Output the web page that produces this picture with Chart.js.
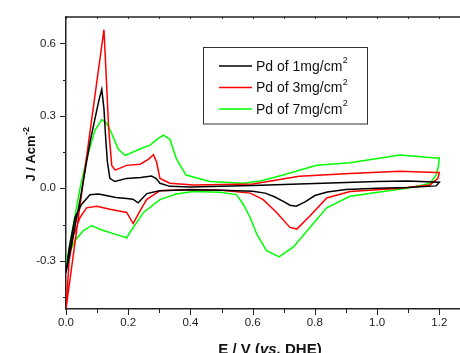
<!DOCTYPE html>
<html>
<head>
<meta charset="utf-8">
<script src="https://cdn.jsdelivr.net/npm/chart.js@4.4.0/dist/chart.umd.min.js"></script>
<style>
  html, body { margin: 0; padding: 0; background: #fff; overflow: hidden; }
  #wrap { width: 480px; height: 353px; }
</style>
</head>
<body>
<div id="wrap"><canvas id="cv" width="480" height="353"></canvas></div>
<script>
/* ---------- data ---------- */
const seriesNames = ['Pd of 1mg/cm', 'Pd of 3mg/cm', 'Pd of 7mg/cm'];
const seriesColors = ['#000000', '#ff0000', '#00ff00'];

// Pd 1 mg/cm2 : anodic scan 0 -> 1.2 V, then cathodic back to 0
const e1 = [0, 0.045, 0.077, 0.105, 0.115, 0.122, 0.128, 0.133, 0.141, 0.157, 0.195, 0.24, 0.275, 0.29, 0.302, 0.334, 0.4, 0.6, 0.8, 1.0, 1.1, 1.2,
            1.19, 1.1, 1.0, 0.9, 0.84, 0.8, 0.77, 0.74, 0.72, 0.7, 0.67, 0.64, 0.6, 0.5, 0.4, 0.3, 0.26, 0.232, 0.215, 0.195, 0.16, 0.141, 0.104, 0.077, 0.05, 0.029, 0.01, 0];
const j1 = [-0.35, -0.05, 0.19, 0.36, 0.41, 0.33, 0.2, 0.11, 0.041, 0.028, 0.041, 0.045, 0.051, 0.04, 0.021, 0.008, 0.005, 0.012, 0.02, 0.028, 0.03, 0.025,
            0.01, 0.003, 0.0, -0.005, -0.015, -0.03, -0.055, -0.074, -0.07, -0.055, -0.035, -0.02, -0.012, -0.008, -0.006, -0.01, -0.022, -0.06, -0.045, -0.042, -0.038, -0.033, -0.024, -0.027, -0.067, -0.12, -0.25, -0.35];

// Pd 3 mg/cm2
const e3 = [0, 0.063, 0.122, 0.128, 0.137, 0.147, 0.158, 0.195, 0.238, 0.265, 0.281, 0.291, 0.302, 0.334, 0.409, 0.6, 0.75, 0.913, 1.074, 1.19, 1.2,
            1.195, 1.17, 1.074, 0.913, 0.838, 0.784, 0.742, 0.72, 0.677, 0.634, 0.592, 0.5, 0.4, 0.302, 0.259, 0.238, 0.216, 0.195, 0.141, 0.099, 0.066, 0.045, 0.024, 0.01, 0];
const j3 = [-0.5, 0.1, 0.657, 0.5, 0.25, 0.095, 0.075, 0.095, 0.1, 0.12, 0.139, 0.11, 0.041, 0.021, 0.014, 0.018, 0.05, 0.061, 0.071, 0.065, 0.065,
            0.04, 0.014, 0.0, -0.013, -0.04, -0.115, -0.169, -0.162, -0.1, -0.047, -0.02, -0.008, -0.005, -0.01, -0.047, -0.094, -0.146, -0.1, -0.087, -0.074, -0.081, -0.121, -0.196, -0.3, -0.5];

// Pd 7 mg/cm2
const e7 = [0, 0.045, 0.066, 0.093, 0.115, 0.13, 0.141, 0.168, 0.19, 0.238, 0.27, 0.295, 0.313, 0.334, 0.355, 0.386, 0.463, 0.57, 0.624, 0.698, 0.806, 0.913, 1.074, 1.19, 1.2,
            1.197, 1.19, 1.17, 1.095, 1.02, 0.913, 0.838, 0.784, 0.731, 0.685, 0.644, 0.613, 0.592, 0.57, 0.548, 0.495, 0.409, 0.355, 0.302, 0.249, 0.206, 0.195, 0.163, 0.12, 0.082, 0.056, 0.029, 0.01, 0];
const j7 = [-0.32, 0.0, 0.12, 0.24, 0.285, 0.27, 0.244, 0.163, 0.136, 0.163, 0.179, 0.205, 0.22, 0.203, 0.122, 0.055, 0.028, 0.021, 0.03, 0.055, 0.095, 0.106, 0.138, 0.125, 0.125,
            0.09, 0.055, 0.02, 0.0, -0.013, -0.033, -0.081, -0.162, -0.243, -0.284, -0.257, -0.189, -0.121, -0.067, -0.026, -0.016, -0.013, -0.024, -0.047, -0.1, -0.182, -0.205, -0.192, -0.175, -0.155, -0.175, -0.216, -0.27, -0.32];

const xTicks = [0, 0.2, 0.4, 0.6, 0.8, 1.0, 1.2];
const yTicks = [-0.3, 0.0, 0.3, 0.6];

const FONT = '"Liberation Sans", Arial, sans-serif';

function toPoints(xs, ys) {
  return xs.map((x, i) => ({ x, y: ys[i] }));
}

/* ---------- frame, minor ticks, titles, legend ---------- */
const decor = {
  id: 'decor',
  afterDraw(chart) {
    const { ctx, chartArea: a } = chart;
    const xs = chart.scales.x, ys = chart.scales.y;
    ctx.save();
    ctx.strokeStyle = '#222';
    ctx.lineWidth = 1.5;
    // top frame line
    ctx.beginPath();
    ctx.moveTo(a.left, a.top);
    ctx.lineTo(a.right, a.top);
    ctx.stroke();

    ctx.lineWidth = 1;
    // y ticks (outward), major every 0.3, minor in between
    for (let k = -3; k <= 4; k++) {
      const v = k * 0.15;
      const py = Math.round(ys.getPixelForValue(v)) + 0.5;
      const len = (k % 2 === 0) ? 6 : 3;
      ctx.beginPath();
      ctx.moveTo(a.left - len, py);
      ctx.lineTo(a.left, py);
      ctx.stroke();
    }
    // x ticks bottom (outward) and top (inward)
    for (let k = 0; k <= 13; k++) {
      const v = k * 0.1;
      const px = Math.round(xs.getPixelForValue(v)) + 0.5;
      const len = (k % 2 === 0) ? 6 : 4;
      ctx.beginPath();
      ctx.moveTo(px, a.bottom);
      ctx.lineTo(px, a.bottom + len);
      ctx.moveTo(px, a.top);
      ctx.lineTo(px, a.top + 2);
      ctx.stroke();
    }

    ctx.fillStyle = '#111';
    // y title with superscript
    ctx.save();
    ctx.translate(35, 154.5);
    ctx.rotate(-Math.PI / 2);
    ctx.textBaseline = 'alphabetic';
    ctx.textAlign = 'left';
    ctx.font = 'bold 13px ' + FONT;
    const base = 'J / Acm';
    const wb = ctx.measureText(base).width;
    ctx.font = 'bold 9px ' + FONT;
    const ws = ctx.measureText('-2').width;
    const x0 = -(wb + ws) / 2;
    ctx.font = 'bold 13px ' + FONT;
    ctx.fillText(base, x0, 0);
    ctx.font = 'bold 9px ' + FONT;
    ctx.fillText('-2', x0 + wb + 0.5, -6);
    ctx.restore();

    // x title, "vs." in italic
    const parts = [['E / V (', 'bold 15px '], ['vs.', 'italic bold 15px '], [' DHE)', 'bold 15px ']];
    let total = 0;
    parts.forEach(p => { ctx.font = p[1] + FONT; total += ctx.measureText(p[0]).width; });
    let tx = 270 - total / 2;
    ctx.textAlign = 'left';
    ctx.textBaseline = 'alphabetic';
    parts.forEach(p => {
      ctx.font = p[1] + FONT;
      ctx.fillText(p[0], tx, 354);
      tx += ctx.measureText(p[0]).width;
    });

    // legend box
    ctx.strokeStyle = '#333';
    ctx.lineWidth = 1;
    ctx.strokeRect(203.5, 47.5, 164, 76.5);
    const rowY = [66, 87.5, 109];
    seriesNames.forEach((name, i) => {
      ctx.strokeStyle = seriesColors[i];
      ctx.lineWidth = 1.5;
      ctx.beginPath();
      ctx.moveTo(219, rowY[i]);
      ctx.lineTo(252, rowY[i]);
      ctx.stroke();
      ctx.fillStyle = '#111';
      ctx.textBaseline = 'middle';
      ctx.font = '14px ' + FONT;
      ctx.fillText(name, 256, rowY[i] + 1);
      const w = ctx.measureText(name).width;
      ctx.font = '9px ' + FONT;
      ctx.fillText('2', 256 + w + 0.5, rowY[i] - 5);
    });
    ctx.restore();
  }
};

/* ---------- chart ---------- */
new Chart(document.getElementById('cv'), {
  type: 'scatter',
  data: {
    datasets: [
      { label: seriesNames[0], data: toPoints(e1, j1), borderColor: seriesColors[0] },
      { label: seriesNames[1], data: toPoints(e3, j3), borderColor: seriesColors[1] },
      { label: seriesNames[2], data: toPoints(e7, j7), borderColor: seriesColors[2] }
    ].map(d => Object.assign(d, { showLine: true, pointRadius: 0, borderWidth: 1.5, tension: 0, fill: false }))
  },
  options: {
    responsive: false,
    animation: false,
    layout: { padding: { left: 0, top: 12, right: 9.6, bottom: 0 } },
    plugins: { legend: { display: false }, tooltip: { enabled: false } },
    scales: {
      x: {
        type: 'linear',
        min: 0, max: 1.3,
        afterFit: s => { s.height = 44; },
        afterBuildTicks: s => { s.ticks = xTicks.map(v => ({ value: v })); },
        ticks: { padding: 7, color: '#222', font: { family: FONT, size: 11.5 }, callback: v => v.toFixed(1), maxRotation: 0 },
        grid: { display: true, drawOnChartArea: false, drawTicks: false },
        border: { color: '#222', width: 1.5 }
      },
      y: {
        type: 'linear',
        min: -0.5, max: 0.71,
        afterFit: s => { s.width = 66; },
        afterBuildTicks: s => { s.ticks = yTicks.map(v => ({ value: v })); },
        ticks: { padding: 10, color: '#222', font: { family: FONT, size: 11.5 }, callback: v => v.toFixed(1) },
        grid: { display: true, drawOnChartArea: false, drawTicks: false },
        border: { color: '#222', width: 1.5 }
      }
    }
  },
  plugins: [decor]
});
</script>
</body>
</html>
